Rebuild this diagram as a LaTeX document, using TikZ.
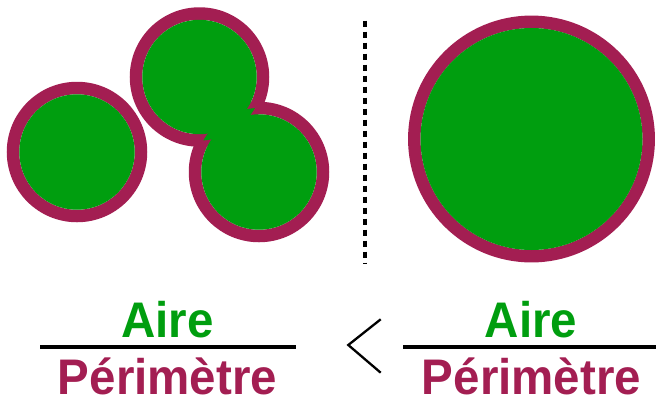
\documentclass[tikz,border=0pt]{standalone}
\usepackage{fontspec}
\setmainfont{Liberation Sans}
\definecolor{leaf}{RGB}{0,158,15}
\definecolor{wine}{RGB}{163,30,82}
\newcommand{\narrowtxt}[1]{\scalebox{0.95}[1]{#1}}
\begin{document}
\begin{tikzpicture}[x=1pt,y=-1pt,
  ring/.style={draw=wine,line width=12.5pt},
  core/.style={fill=leaf},
  num/.style={text=leaf,font=\bfseries\fontsize{50}{50}\selectfont,anchor=base,inner sep=0pt},
  den/.style={text=wine,font=\bfseries\fontsize{50}{50}\selectfont,anchor=base,inner sep=0pt,text depth=0pt},
  barline/.style={line width=3.5pt}]
\useasboundingbox (0,0) rectangle (656,397);
% left single circle
\draw[ring] (77,152) circle[radius=64];
\fill[core] (77,152) circle[radius=57.7];
% two merged circles
\draw[ring] (199.5,77) circle[radius=63.5];
\draw[ring] (259,172) circle[radius=64];
\fill[core] (199.5,77) circle[radius=57.2];
\fill[core] (259,172) circle[radius=57.7];
\begin{scope}
  \clip (199.5,77) circle[radius=63.5];
  \fill[core] (259,172) circle[radius=64];
\end{scope}
% big circle
\draw[ring] (531.5,139) circle[radius=117.2];
\fill[core] (531.5,139) circle[radius=111];
% separator
\coordinate (s1) at (365,20.5);
\coordinate (s2) at (365,264);
\draw[line width=3.3pt,dash pattern=on 6pt off 5pt] (s1) -- (s2);
% left fraction
\node[num] (a1) at (167.5,337) {\narrowtxt{Aire}};
\node[den] (p1) at (167.5,394) {\narrowtxt{Périmètre}};
\coordinate (l1a) at (40,347);
\coordinate (l1b) at (296,347);
\draw[barline] (l1a) -- (l1b);
% less-than sign
\coordinate (t1) at (380.7,319.3);
\coordinate (t2) at (348.3,345);
\coordinate (t3) at (380.7,372.7);
\draw[line width=2.3pt,line join=miter] (t1) -- (t2) -- (t3);
% right fraction
\node[num] (a2) at (531,337) {\narrowtxt{Aire}};
\node[den] (p2) at (531.5,394) {\narrowtxt{Périmètre}};
\coordinate (l2a) at (403,347);
\coordinate (l2b) at (659,347);
\draw[barline] (l2a) -- (l2b);
\end{tikzpicture}
\end{document}
